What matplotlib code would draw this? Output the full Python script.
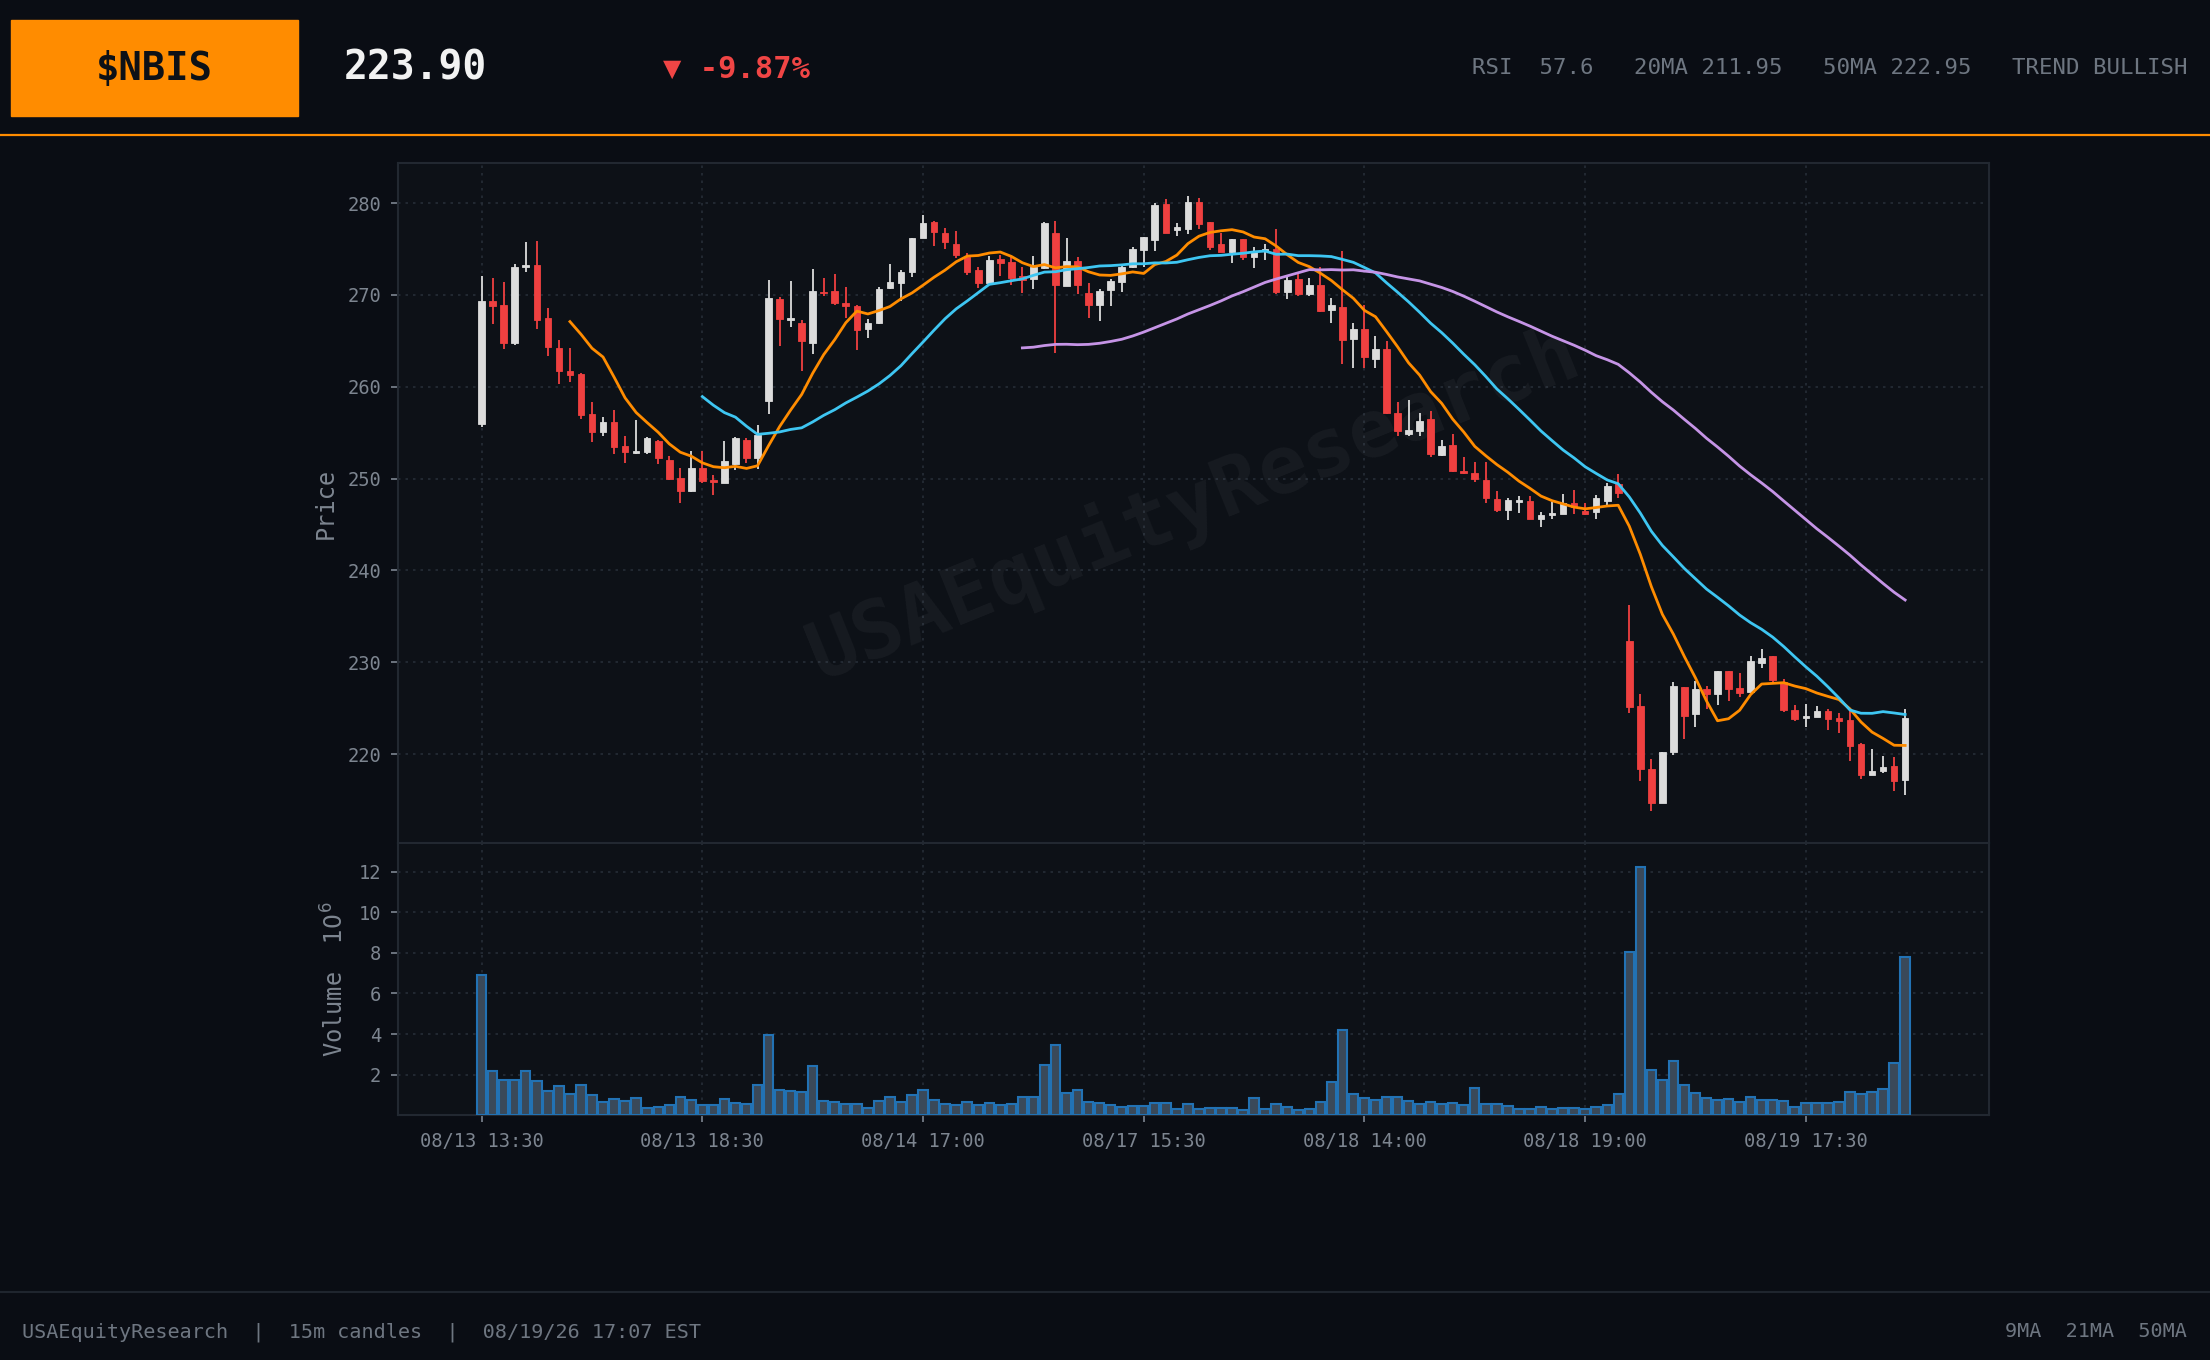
#!/usr/bin/env python3
"""
$NBIS 15m candles with 9/21/50 moving averages and volume pane.
Saves out.png (2210x1360).
"""

import numpy as np
import pandas as pd
import matplotlib
matplotlib.use('Agg')
import matplotlib.pyplot as plt
from matplotlib.patches import Rectangle
from matplotlib.lines import Line2D

plt.rcParams['font.family'] = ['DejaVu Sans Mono', 'DejaVu Sans']

# ---------------------------------------------------------------------------
# Data
# ---------------------------------------------------------------------------
opens = [
    255.9, 269.3, 268.9, 264.8, 273.0, 273.3, 267.5, 264.2, 261.7, 261.4,
    257.0, 255.1, 256.2, 253.5, 252.8, 252.9, 254.1, 252.0, 250.1, 248.7,
    251.2, 249.9, 249.5, 251.6, 254.2, 252.2, 258.4, 269.6, 267.3, 267.0,
    264.8, 270.3, 270.4, 269.1, 268.8, 266.3, 267.0, 270.8, 271.3, 272.5,
    276.2, 277.9, 276.8, 275.6, 274.1, 272.7, 271.3, 273.9, 273.6, 272.1,
    271.7, 272.9, 276.7, 271.0, 273.7, 270.2, 268.9, 270.5, 271.4, 273.0,
    274.9, 276.0, 279.9, 277.1, 277.2, 280.1, 277.9, 275.5, 274.7, 276.1,
    274.1, 274.8, 275.0, 270.3, 271.7, 270.1, 271.1, 268.4, 268.7, 265.2,
    266.3, 263.0, 264.1, 257.1, 254.9, 255.2, 256.5, 252.6, 253.7, 250.8,
    250.6, 249.8, 247.8, 246.6, 247.5, 247.6, 245.6, 246.0, 246.2, 247.3,
    246.5, 246.4, 247.6, 249.4, 232.3, 225.2, 218.4, 214.7, 220.2, 227.3,
    224.4, 227.1, 226.6, 229.0, 227.2, 226.8, 229.9, 230.7, 227.9, 224.8,
    223.9, 224.0, 224.7, 223.9, 223.7, 221.1, 217.7, 218.2, 218.7, 217.2,
]
highs = [
    272.1, 271.8, 271.4, 273.4, 275.8, 275.9, 268.6, 265.1, 264.2, 261.5,
    258.3, 256.7, 257.5, 254.6, 256.4, 254.5, 254.2, 252.5, 251.2, 253.0,
    253.0, 250.4, 254.1, 254.5, 254.4, 255.8, 271.6, 269.8, 271.5, 267.3,
    272.8, 271.8, 272.3, 270.9, 268.9, 267.4, 270.9, 273.4, 272.7, 276.2,
    278.7, 278.1, 277.3, 277.0, 274.6, 273.1, 274.2, 274.4, 274.1, 273.1,
    274.2, 277.9, 278.1, 276.2, 274.1, 271.3, 270.6, 271.7, 273.3, 275.2,
    276.3, 280.0, 280.4, 277.8, 280.8, 280.6, 278.0, 276.8, 276.1, 276.1,
    275.2, 275.5, 277.2, 272.0, 272.3, 271.9, 273.1, 269.7, 274.8, 266.9,
    268.9, 265.5, 265.0, 258.3, 258.6, 257.2, 257.4, 254.2, 254.9, 252.4,
    251.8, 251.8, 248.7, 247.9, 248.1, 248.1, 246.4, 247.5, 248.3, 248.8,
    247.3, 248.2, 249.5, 250.5, 236.2, 226.5, 219.5, 220.2, 227.8, 227.3,
    228.0, 227.4, 229.1, 229.0, 228.8, 230.7, 231.5, 230.7, 228.2, 225.4,
    225.5, 225.2, 224.9, 224.5, 224.7, 221.2, 220.6, 219.8, 219.7, 224.9,
]
lows = [
    255.6, 266.8, 264.1, 264.6, 272.5, 266.3, 263.4, 260.3, 260.5, 256.5,
    254.0, 254.6, 252.7, 251.7, 252.7, 252.7, 251.6, 249.9, 247.4, 248.5,
    249.5, 248.2, 249.5, 250.9, 251.7, 251.0, 257.0, 264.4, 266.5, 261.7,
    263.6, 269.9, 268.9, 267.5, 264.0, 265.3, 266.8, 270.7, 269.3, 272.0,
    276.2, 275.3, 275.0, 274.0, 272.2, 270.8, 271.1, 272.1, 271.1, 270.2,
    270.7, 272.8, 263.7, 271.0, 270.1, 267.5, 267.2, 268.8, 270.3, 272.9,
    273.0, 274.8, 276.7, 276.4, 276.6, 277.2, 274.9, 274.7, 273.5, 273.8,
    272.9, 273.8, 270.1, 269.6, 269.9, 269.9, 268.2, 266.9, 262.5, 262.1,
    262.1, 262.0, 257.0, 254.6, 254.6, 254.6, 252.4, 252.5, 250.7, 250.5,
    249.6, 247.4, 246.4, 245.5, 246.3, 245.6, 244.7, 245.6, 246.1, 246.1,
    246.0, 245.6, 247.0, 247.9, 224.5, 217.1, 213.8, 214.7, 219.9, 221.7,
    223.0, 224.9, 225.3, 225.8, 226.2, 226.7, 229.4, 227.9, 224.6, 223.6,
    222.9, 224.0, 222.6, 222.3, 219.2, 217.3, 217.7, 217.9, 216.0, 215.6,
]
closes = [
    269.3, 268.8, 264.8, 273.1, 273.3, 267.3, 264.3, 261.7, 261.3, 256.9,
    255.1, 256.2, 253.4, 252.9, 253.0, 254.4, 252.2, 250.0, 248.7, 251.2,
    249.7, 249.6, 251.9, 254.4, 252.3, 254.8, 269.7, 267.4, 267.4, 265.0,
    270.4, 270.2, 269.1, 268.8, 266.2, 266.9, 270.7, 271.4, 272.5, 276.2,
    277.8, 276.9, 275.8, 274.3, 272.5, 271.3, 273.8, 273.5, 271.9, 271.6,
    273.1, 277.8, 271.1, 273.7, 271.1, 268.9, 270.4, 271.5, 273.1, 275.0,
    276.3, 279.8, 276.7, 277.4, 280.1, 277.7, 275.2, 274.7, 276.1, 274.1,
    274.8, 275.0, 270.3, 271.6, 270.1, 271.1, 268.3, 268.9, 265.1, 266.3,
    263.2, 264.1, 257.1, 255.2, 255.3, 256.3, 252.7, 253.6, 250.8, 250.6,
    250.0, 247.9, 246.6, 247.7, 247.7, 245.6, 246.0, 246.3, 247.4, 246.9,
    246.2, 247.9, 249.2, 248.4, 225.1, 218.4, 214.7, 220.2, 227.4, 224.2,
    227.1, 226.6, 229.0, 227.1, 226.7, 230.1, 230.5, 228.1, 224.8, 223.8,
    224.1, 224.7, 223.8, 223.6, 220.9, 217.7, 218.2, 218.6, 217.1, 223.9,
]
# volume in millions of shares
volumes = [
    6.89, 2.18, 1.73, 1.73, 2.18, 1.69, 1.19, 1.44, 1.05, 1.49,
    1.00, 0.65, 0.80, 0.70, 0.85, 0.36, 0.41, 0.51, 0.90, 0.75,
    0.51, 0.51, 0.80, 0.61, 0.56, 1.49, 3.94, 1.24, 1.19, 1.15,
    2.42, 0.70, 0.65, 0.56, 0.56, 0.36, 0.70, 0.90, 0.65, 1.00,
    1.24, 0.75, 0.56, 0.51, 0.65, 0.51, 0.61, 0.51, 0.56, 0.90,
    0.90, 2.47, 3.45, 1.10, 1.24, 0.65, 0.61, 0.51, 0.41, 0.46,
    0.46, 0.61, 0.61, 0.31, 0.56, 0.31, 0.36, 0.36, 0.36, 0.26,
    0.85, 0.31, 0.56, 0.41, 0.26, 0.31, 0.65, 1.64, 4.19, 1.05,
    0.85, 0.75, 0.90, 0.90, 0.70, 0.56, 0.65, 0.56, 0.61, 0.51,
    1.34, 0.56, 0.56, 0.46, 0.31, 0.31, 0.41, 0.31, 0.36, 0.36,
    0.31, 0.41, 0.51, 1.05, 8.02, 12.21, 2.23, 1.73, 2.67, 1.49,
    1.10, 0.85, 0.75, 0.80, 0.65, 0.90, 0.75, 0.75, 0.70, 0.41,
    0.61, 0.61, 0.61, 0.65, 1.15, 1.05, 1.15, 1.29, 2.57, 7.77,
]
tick_idx = [0, 20, 40, 60, 80, 100, 120]
tick_labels = ['08/13 13:30', '08/13 18:30', '08/14 17:00', '08/17 15:30',
               '08/18 14:00', '08/18 19:00', '08/19 17:30']
ma_windows = [9, 21, 50]

ticker = '$NBIS'
last_price = '223.90'
change_txt = '\u25BC -9.87%'
stats_txt = 'RSI  57.6   20MA 211.95   50MA 222.95   TREND BULLISH'
footer_left = 'USAEquityResearch  |  15m candles  |  08/19/26 17:07 EST'
footer_right = '9MA  21MA  50MA'
watermark = 'USAEquityResearch'

# ---------------------------------------------------------------------------
# Styling
# ---------------------------------------------------------------------------
BG = '#0a0d14'
PANEL = '#0d1117'
GRID = '#262d37'
SPINE = '#222831'
TXT = '#7d8590'
HDR = '#6e7681'
UP = '#dcdcdc'
DOWN = '#ef4040'
ORANGE = '#ff8c00'
MA_COLORS = {9: '#ff8c00', 21: '#3ec6f2', 50: '#c594e6'}


def style_axes(ax):
    ax.set_facecolor(PANEL)
    for sp in ax.spines.values():
        sp.set_color(SPINE)
        sp.set_linewidth(1.5)
    ax.grid(True, color=GRID, ls=(0, (1.5, 3)), lw=1.2)
    ax.set_axisbelow(True)
    ax.tick_params(colors=TXT, labelsize=13.5, length=5, width=1.2, pad=7)


def main():
    df = pd.DataFrame({'open': opens, 'high': highs, 'low': lows,
                       'close': closes, 'volume': volumes})
    x = np.arange(len(df))
    up = df['close'] >= df['open']
    colors = np.where(up, UP, DOWN)

    fig = plt.figure(figsize=(22.1, 13.6), dpi=100, facecolor=BG)
    ax = fig.add_axes([0.18, 0.38, 0.72, 0.50])
    axv = fig.add_axes([0.18, 0.18, 0.72, 0.20], sharex=ax)
    style_axes(ax)
    style_axes(axv)

    # ---- candles -----------------------------------------------------------
    ax.vlines(x, df['low'], df['high'], colors=colors, lw=1.3, zorder=3)
    body_lo = np.minimum(df['open'], df['close'])
    body_h = np.maximum((df['close'] - df['open']).abs(), 0.15)
    ax.bar(x, body_h, bottom=body_lo, width=0.6, color=colors,
           edgecolor=colors, lw=0.6, zorder=4)

    # ---- moving averages -----------------------------------------------------
    for w in ma_windows:
        ma = df['close'].rolling(w).mean()
        ax.plot(x, ma, color=MA_COLORS[w], lw=2.0, zorder=5)

    ax.set_xlim(-7.6, 136.6)
    ax.set_ylim(210.3, 284.35)
    ax.set_yticks([220, 230, 240, 250, 260, 270, 280])
    ax.set_ylabel('Price', color=TXT, fontsize=17)
    ax.yaxis.set_label_coords(-0.038, 0.5)
    ax.tick_params(axis='x', bottom=False, labelbottom=False)

    ax.text(0.5, 0.5, watermark, transform=ax.transAxes, rotation=22,
            ha='center', va='center', fontsize=58, fontweight='bold',
            color='white', alpha=0.045, zorder=1)

    # ---- volume ------------------------------------------------------------
    axv.bar(x, df['volume'], width=0.85, color='#3a4959',
            edgecolor='#2272b4', lw=1.5, zorder=3)
    axv.set_ylim(0, 13.4)
    axv.set_yticks([2, 4, 6, 8, 10, 12])
    axv.set_ylabel('Volume  $10^{6}$', color=TXT, fontsize=17)
    axv.yaxis.set_label_coords(-0.031, 0.5)
    axv.set_xticks(tick_idx)
    axv.set_xticklabels(tick_labels)

    # ---- header ------------------------------------------------------------
    fig.patches.append(Rectangle((0.005, 0.9147), 0.1298, 0.0706,
                                 transform=fig.transFigure, color=ORANGE,
                                 zorder=0))
    fig.text(0.0699, 0.9495, ticker, ha='center', va='center', fontsize=28,
             fontweight='bold', color='#0d1117')
    fig.text(0.1557, 0.950, last_price, ha='left', va='center', fontsize=28.5,
             fontweight='bold', color='#f2f2f2')
    fig.text(0.300, 0.9487, change_txt, ha='left', va='center', fontsize=22,
             fontweight='bold', color='#f04545')
    fig.text(0.9896, 0.9497, stats_txt, ha='right', va='center', fontsize=16.1,
             color=HDR)
    fig.add_artist(Line2D([0, 1], [0.9007, 0.9007], transform=fig.transFigure,
                          color=ORANGE, lw=1.6))

    # ---- footer ------------------------------------------------------------
    fig.add_artist(Line2D([0, 1], [0.050, 0.050], transform=fig.transFigure,
                          color='#1f252e', lw=1.5))
    fig.text(0.010, 0.0206, footer_left, ha='left', va='center',
             fontsize=14.5, color=HDR)
    fig.text(0.9896, 0.0206, footer_right, ha='right', va='center',
             fontsize=14.5, color=HDR)

    fig.savefig('out.png', dpi=100, facecolor=BG)


if __name__ == '__main__':
    main()
